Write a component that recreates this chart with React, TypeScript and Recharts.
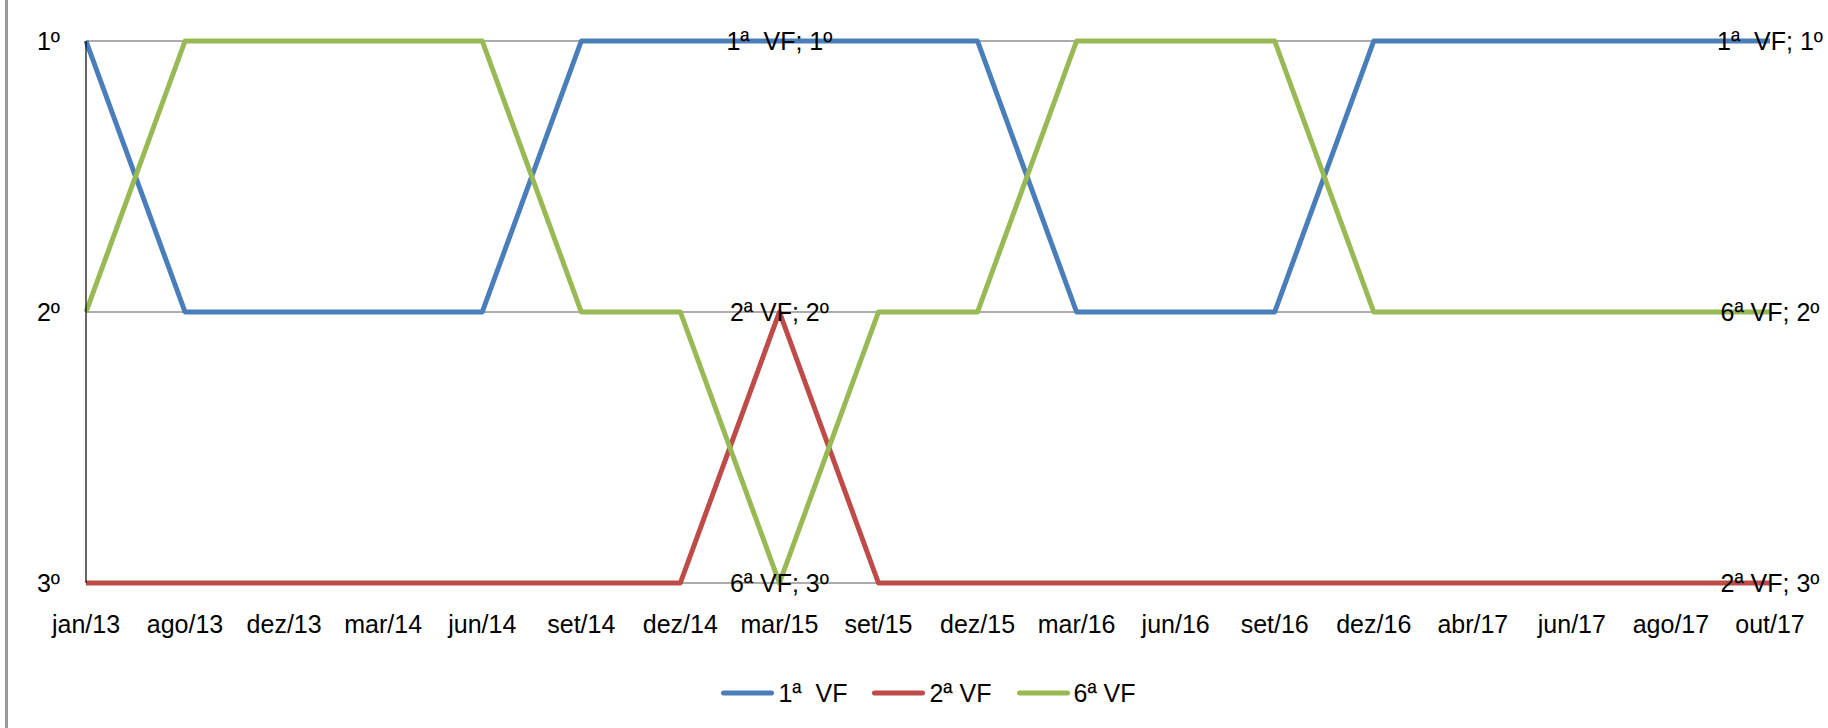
import React from "react";
import {
  LineChart,
  Line,
  XAxis,
  YAxis,
  CartesianGrid,
  Legend,
} from "recharts";

const categories = [
  "jan/13", "ago/13", "dez/13", "mar/14", "jun/14", "set/14", "dez/14", "mar/15", "set/15",
  "dez/15", "mar/16", "jun/16", "set/16", "dez/16", "abr/17", "jun/17", "ago/17", "out/17",
];
const vf1 = [1, 2, 2, 2, 2, 1, 1, 1, 1, 1, 2, 2, 2, 1, 1, 1, 1, 1];
const vf2 = [3, 3, 3, 3, 3, 3, 3, 2, 3, 3, 3, 3, 3, 3, 3, 3, 3, 3];
const vf6 = [2, 1, 1, 1, 1, 2, 2, 3, 2, 2, 1, 1, 1, 2, 2, 2, 2, 2];
const rankTicks = [1, 2, 3];
const labelledIdx = [7, 17];

const series = [
  { key: "vf1", name: "1ª  VF", color: "#4A7EBB" },
  { key: "vf2", name: "2ª VF", color: "#BE4B48" },
  { key: "vf6", name: "6ª VF", color: "#98B954" },
];

const data = categories.map((c, i) => ({ cat: c, vf1: vf1[i], vf2: vf2[i], vf6: vf6[i] }));

const FONT = "'Liberation Sans', Arial, sans-serif";
const FS = 25;

const makeLabel = (name: string) => (props: any) => {
  const { x, y, index, value } = props;
  if (!labelledIdx.includes(index)) return <g />;
  return (
    <text
      x={x}
      y={y + 9}
      textAnchor="middle"
      fontFamily={FONT}
      fontSize={FS}
      fill="#000"
      style={{ whiteSpace: "pre" }}
    >
      {`${name}; ${value}º`}
    </text>
  );
};

const LegendBox = () => (
  <div
    style={{
      display: "flex",
      justifyContent: "center",
      alignItems: "center",
      height: 40,
      fontFamily: FONT,
      fontSize: FS,
      color: "#000",
    }}
  >
    {series.map((s) => (
      <div key={s.key} style={{ display: "flex", alignItems: "center", margin: "0 12px" }}>
        <svg width={55} height={10}>
          <line x1={3.5} y1={5} x2={51.5} y2={5} stroke={s.color} strokeWidth={5} strokeLinecap="round" />
        </svg>
        <span style={{ whiteSpace: "pre", marginLeft: 3 }}>{s.name}</span>
      </div>
    ))}
  </div>
);

export default function App() {
  return (
    <div style={{ position: "absolute", left: 0, top: 0, width: 1828, height: 728, background: "#fff" }}>
      <div
        style={{
          position: "absolute",
          left: 5,
          top: 0,
          width: 3,
          height: 728,
          background: "#9a9a9a",
        }}
      />
      <LineChart
        width={1828}
        height={728}
        data={data}
        margin={{ top: 41, right: 58, bottom: 15, left: 0 }}
      >
        <CartesianGrid vertical={false} stroke="#909090" strokeWidth={1.5} />
        <XAxis
          dataKey="cat"
          axisLine={false}
          tickLine={false}
          interval={0}
          height={90}
          tickMargin={26}
          tick={{ fill: "#000", fontFamily: FONT, fontSize: FS }}
        />
        <YAxis
          type="number"
          domain={[1, 3]}
          ticks={rankTicks}
          reversed
          width={86}
          tickLine={false}
          axisLine={{ stroke: "#000", strokeWidth: 1.2 }}
          tickMargin={20}
          tickFormatter={(v) => `${v}º`}
          tick={{ fill: "#000", fontFamily: FONT, fontSize: FS }}
        />
        <Legend
          verticalAlign="bottom"
          content={<LegendBox />}
          wrapperStyle={{ left: 86, width: 1684 }}
        />
        {series.map((s) => (
          <Line
            key={s.key}
            dataKey={s.key}
            name={s.name}
            stroke={s.color}
            strokeWidth={5}
            strokeLinejoin="round"
            dot={false}
            activeDot={false}
            type="linear"
            isAnimationActive={false}
            label={makeLabel(s.name)}
          />
        ))}
      </LineChart>
    </div>
  );
}
